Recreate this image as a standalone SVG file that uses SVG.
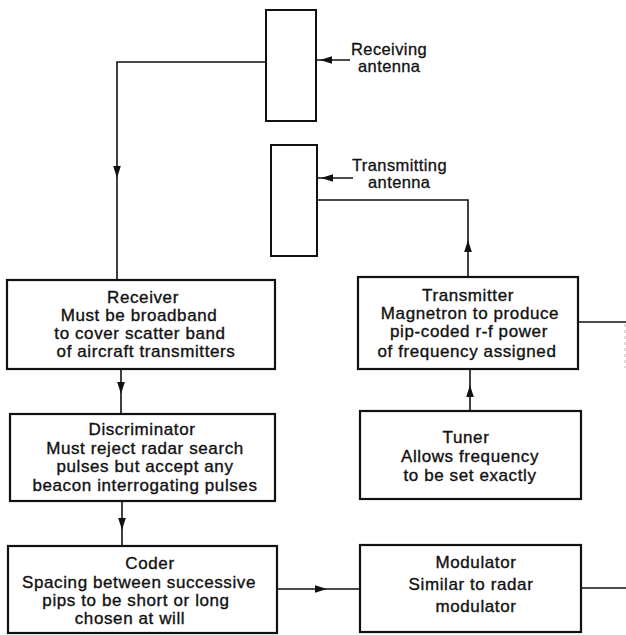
<svg xmlns="http://www.w3.org/2000/svg" xmlns:xlink="http://www.w3.org/1999/xlink" width="626" height="635" viewBox="0 0 626 635">
  <style>
    .box { fill: #fff; stroke: #111; stroke-width: 2.2; }
    .ant { fill: #fff; stroke: #111; stroke-width: 2; }
    .wire { fill: none; stroke: #111; stroke-width: 1.6; }
    .faint { fill: none; stroke: #bbb; stroke-width: 1; stroke-dasharray: 3 3; }
    .t { font-family: "Liberation Sans", Arial, sans-serif; font-size: 17px; letter-spacing: 0.6px; fill: #111; stroke: #111; stroke-width: 0.35; text-anchor: middle; }
    .lbl { font-family: "Liberation Sans", Arial, sans-serif; font-size: 16.5px; letter-spacing: 0.4px; fill: #111; stroke: #111; stroke-width: 0.3; text-anchor: start; }
  </style>
  <defs>
    <path id="ah" d="M0,0 L-12,-3.8 L-12,3.8 Z" fill="#111"/>
  </defs>
  <rect width="626" height="635" fill="#fff"/>

  <g id="connectors">
    <!-- receiving antenna input -->
    <line class="wire" x1="350" y1="60" x2="317" y2="60"/>
    <use xlink:href="#ah" transform="translate(320,60) rotate(180)"/>
    <!-- transmitting antenna input -->
    <line class="wire" x1="353" y1="178" x2="318" y2="178"/>
    <use xlink:href="#ah" transform="translate(321,178) rotate(180)"/>
    <!-- receiving antenna to receiver -->
    <polyline class="wire" points="266,62 117,62 117,280"/>
    <use xlink:href="#ah" transform="translate(117,178) rotate(90)"/>
    <!-- transmitter to transmitting antenna -->
    <polyline class="wire" points="468,277 468,200 317,200"/>
    <use xlink:href="#ah" transform="translate(468,240) rotate(-90)"/>
    <!-- receiver to discriminator -->
    <line class="wire" x1="121" y1="369" x2="121" y2="414"/>
    <use xlink:href="#ah" transform="translate(121,394) rotate(90)"/>
    <!-- discriminator to coder -->
    <line class="wire" x1="122" y1="501" x2="122" y2="546"/>
    <use xlink:href="#ah" transform="translate(122,530) rotate(90)"/>
    <!-- tuner to transmitter -->
    <line class="wire" x1="470" y1="411" x2="470" y2="369"/>
    <use xlink:href="#ah" transform="translate(470,385) rotate(-90)"/>
    <!-- coder to modulator -->
    <line class="wire" x1="277" y1="589" x2="360" y2="589"/>
    <use xlink:href="#ah" transform="translate(327,589)"/>
    <!-- lines leaving to the right -->
    <line class="wire" x1="578" y1="322" x2="626" y2="322"/>
    <line class="wire" x1="581" y1="588" x2="626" y2="588"/>
    <line class="faint" x1="625" y1="324" x2="625" y2="368"/>
  </g>

  <g id="receiving-antenna">
    <rect class="ant" x="266" y="10" width="50" height="111"/>
    <text class="lbl" x="351" y="55">Receiving</text>
    <text class="lbl" x="358" y="72">antenna</text>
  </g>

  <g id="transmitting-antenna">
    <rect class="ant" x="271" y="145" width="46" height="111"/>
    <text class="lbl" x="352" y="171">Transmitting</text>
    <text class="lbl" x="368" y="188">antenna</text>
  </g>

  <g id="receiver">
    <rect class="box" x="7" y="280" width="268" height="89"/>
    <text class="t" x="143" y="303">Receiver</text>
    <text class="t" x="139" y="321">Must be broadband</text>
    <text class="t" x="140" y="339">to cover scatter band</text>
    <text class="t" x="146" y="357">of aircraft transmitters</text>
  </g>

  <g id="transmitter">
    <rect class="box" x="358" y="277" width="220" height="92"/>
    <text class="t" x="468" y="301">Transmitter</text>
    <text class="t" x="470" y="319">Magnetron to produce</text>
    <text class="t" x="469" y="337">pip-coded r-f power</text>
    <text class="t" x="467" y="357">of frequency assigned</text>
  </g>

  <g id="discriminator">
    <rect class="box" x="10" y="414" width="265" height="87"/>
    <text class="t" x="142" y="435">Discriminator</text>
    <text class="t" x="145" y="454">Must reject radar search</text>
    <text class="t" x="145" y="472">pulses but accept any</text>
    <text class="t" x="145" y="491">beacon interrogating pulses</text>
  </g>

  <g id="tuner">
    <rect class="box" x="360" y="411" width="221" height="88"/>
    <text class="t" x="466" y="443">Tuner</text>
    <text class="t" x="470" y="462">Allows frequency</text>
    <text class="t" x="470" y="481">to be set exactly</text>
  </g>

  <g id="coder">
    <rect class="box" x="8" y="546" width="269" height="87"/>
    <text class="t" x="150" y="569">Coder</text>
    <text class="t" x="139" y="588">Spacing between successive</text>
    <text class="t" x="136" y="606">pips to be short or long</text>
    <text class="t" x="130" y="624">chosen at will</text>
  </g>

  <g id="modulator">
    <rect class="box" x="360" y="545" width="221" height="87"/>
    <text class="t" x="476" y="568">Modulator</text>
    <text class="t" x="471" y="590">Similar to radar</text>
    <text class="t" x="476" y="612">modulator</text>
  </g>
</svg>
